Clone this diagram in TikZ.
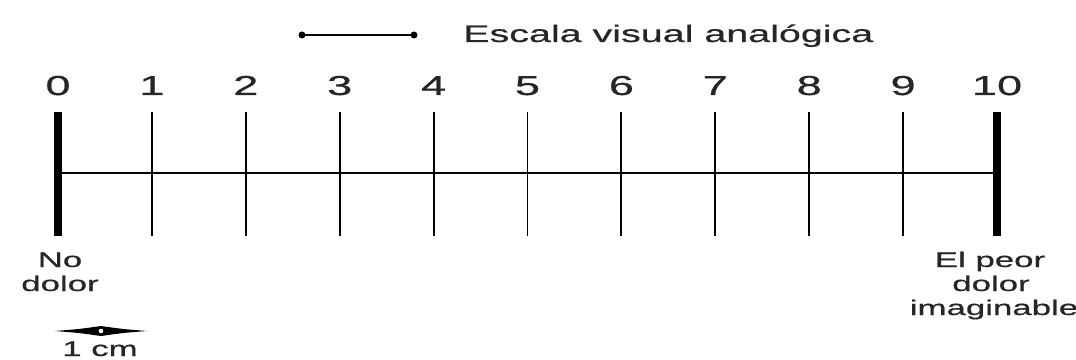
\documentclass[tikz,border=0pt]{standalone}
\usepackage{fontspec}
\setmainfont{Liberation Sans}[FakeStretch=1.65, FakeBold=0.6]
\definecolor{texto}{gray}{0.15}

\tikzset{
  marca/.style={line width=1.4pt},
  marcagruesa/.style={line width=5.6pt},
  num/.style={anchor=base, inner sep=0pt, text=texto, font=\fontsize{19.5}{22}\selectfont},
  etiqueta/.style={anchor=base, inner sep=0pt, align=center, text=texto, font=\fontsize{15}{17}\selectfont}
}

\begin{document}
\begin{tikzpicture}[x=0.025cm,y=-0.025cm]
    \useasboundingbox (0,0) rectangle (1076,360);
    % numeros y marcas
    \foreach \n in {0,...,10} {
      \pgfmathsetmacro{\xx}{58+93.9*\n}
      \node[num] (n\n) at (\xx,95) {\n};
      \coordinate (t\n) at (\xx,112);
      \coordinate (m\n) at (\xx,173);
      \coordinate (b\n) at (\xx,236);
    }
    \foreach \n in {1,...,9}
      \draw[marca] (t\n) -- (b\n);
    \draw[marcagruesa] (t0) -- (b0);
    \draw[marcagruesa] (t10) -- (b10);
    \draw[line width=1.1pt] (m0) -- (m10);
    % leyenda
    \coordinate (ea) at (302,35);
    \coordinate (eb) at (414,35);
    \draw[line width=1.1pt] (ea) -- (eb);
    \fill (ea) circle (3.5);
    \fill (eb) circle (3.5);
    \node[num, anchor=base west, font=\fontsize{17}{19}\selectfont] (titulo) at (463,42) {Escala visual analógica};
    % extremos
    \node[etiqueta] (nodolor) at (60,267) {No};
    \node[etiqueta] (nodolor2) at (60,291) {dolor};
    \node[etiqueta] (peor) at (990,267) {El peor};
    \node[etiqueta] (peor2) at (991,291) {dolor};
    \node[etiqueta] (peor3) at (994,315) {imaginable};
    % escala de 1 cm
    \fill (55,331) .. controls (80,329) .. (101,326) .. controls (122,329) .. (147,331)
      .. controls (122,333) .. (101,336) .. controls (80,333) .. (55,331) -- cycle;
    \fill[white] (101,331) circle (2.3);
    \node[etiqueta] (cm) at (100,356) {1 cm};
\end{tikzpicture}
\end{document}
